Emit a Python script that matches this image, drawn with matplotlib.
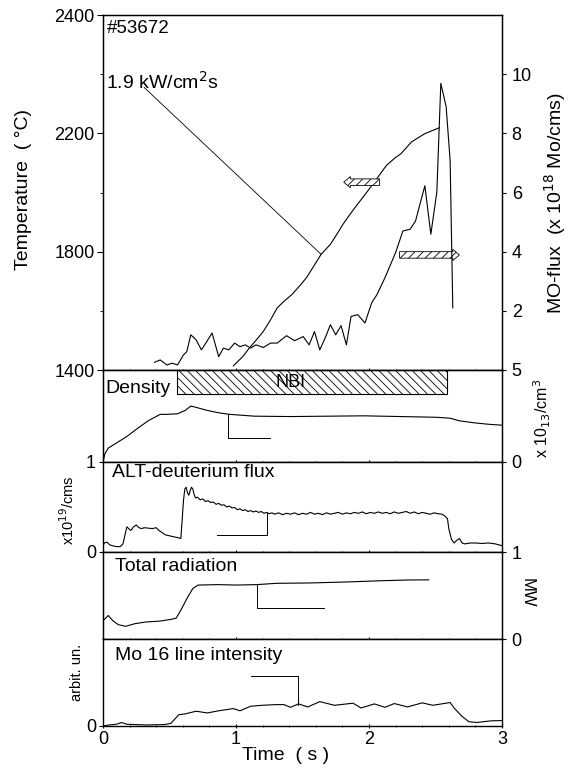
import matplotlib
matplotlib.use('Agg')
import matplotlib.pyplot as plt
from matplotlib.patches import Rectangle, FancyArrow

plt.rcParams['font.family'] = ['Liberation Sans', 'DejaVu Sans']
plt.rcParams['hatch.linewidth'] = 0.6

# ---------------- data ----------------
temp_t = [0.98, 1.05, 1.10, 1.15, 1.205, 1.26, 1.31, 1.36, 1.42, 1.48, 1.53, 1.59, 1.64,
          1.71, 1.76, 1.805, 1.86, 1.915, 1.97, 2.02, 2.08, 2.13, 2.19, 2.24, 2.32, 2.42,
          2.48, 2.53]
temp_c = [1414, 1445, 1474, 1500, 1530, 1570, 1610, 1632, 1655, 1685, 1712, 1755, 1791,
          1825, 1860, 1893, 1928, 1961, 1993, 2023, 2060, 2091, 2115, 2131, 2171, 2199,
          2210, 2219]

mo_t = [0.387, 0.43, 0.48, 0.52, 0.56, 0.605, 0.63, 0.66, 0.70, 0.74, 0.78, 0.82, 0.87,
        0.905, 0.946, 0.99, 1.03, 1.07, 1.11, 1.15, 1.205, 1.26, 1.31, 1.38, 1.44, 1.505,
        1.55, 1.59, 1.63, 1.67, 1.71, 1.75, 1.79, 1.83, 1.865, 1.915, 1.97, 2.02, 2.06,
        2.12, 2.20, 2.255, 2.31, 2.35, 2.42, 2.465, 2.51, 2.54, 2.58, 2.61, 2.63]
mo_flux = [0.26, 0.34, 0.17, 0.23, 0.17, 0.51, 0.62, 1.19, 1.02, 0.68, 0.96, 1.25, 0.45,
           0.74, 0.68, 0.91, 0.79, 0.85, 0.74, 0.85, 0.76, 0.91, 0.91, 1.16, 0.99, 1.13,
           0.85, 1.30, 0.68, 1.08, 1.53, 1.19, 1.50, 0.85, 1.81, 1.87, 1.59, 2.27, 2.55,
           3.12, 3.97, 4.70, 4.76, 5.04, 6.23, 4.59, 6.01, 9.69, 8.90, 7.08, 2.10]

den_t = [0.005, 0.014, 0.04, 0.096, 0.18, 0.26, 0.34, 0.43, 0.48, 0.56, 0.62, 0.66, 0.70,
         0.78, 0.865, 0.95, 1.14, 1.41, 1.69, 1.96, 2.24, 2.51, 2.61, 2.68, 2.79, 2.90, 3.0]
den_v = [0.15, 0.44, 0.76, 1.01, 1.39, 1.83, 2.24, 2.59, 2.59, 2.62, 2.81, 3.04, 2.97,
         2.81, 2.68, 2.59, 2.49, 2.47, 2.49, 2.51, 2.47, 2.43, 2.38, 2.24, 2.13, 2.05, 2.0]

alt_t = [0.00, 0.01, 0.03, 0.05, 0.07, 0.10, 0.13, 0.15, 0.17, 0.18, 0.20, 0.21, 0.23,
         0.25, 0.27, 0.29, 0.31, 0.34, 0.37, 0.40, 0.42, 0.44, 0.47, 0.50, 0.53, 0.56,
         0.585, 0.595, 0.605, 0.615, 0.625, 0.635, 0.645, 0.655, 0.665, 0.675, 0.685,
         0.695, 0.71, 0.73, 0.75, 0.77, 0.79, 0.81, 0.83, 0.85, 0.87, 0.89, 0.91, 0.93,
         0.95, 0.97, 0.99, 1.01, 1.03, 1.05, 1.07, 1.09, 1.11, 1.13, 1.15, 1.17, 1.19,
         1.21, 1.23, 1.25, 1.27, 1.29, 1.32, 1.35, 1.38, 1.41, 1.44, 1.47, 1.50, 1.53,
         1.56, 1.59, 1.62, 1.65, 1.68, 1.71, 1.74, 1.77, 1.80, 1.83, 1.86, 1.89, 1.92,
         1.95, 1.98, 2.01, 2.04, 2.07, 2.10, 2.13, 2.16, 2.19, 2.22, 2.25, 2.28, 2.31,
         2.34, 2.37, 2.40, 2.43, 2.46, 2.49, 2.52, 2.55, 2.57, 2.59, 2.60, 2.62, 2.64,
         2.66, 2.68, 2.70, 2.72, 2.76, 2.80, 2.85, 2.90, 2.95, 3.00]
alt_v = [0.07, 0.10, 0.11, 0.08, 0.07, 0.06, 0.06, 0.09, 0.22, 0.28, 0.25, 0.24, 0.28,
         0.30, 0.27, 0.26, 0.27, 0.265, 0.26, 0.27, 0.24, 0.22, 0.19, 0.18, 0.17, 0.16,
         0.15, 0.35, 0.57, 0.70, 0.72, 0.66, 0.63, 0.68, 0.72, 0.70, 0.64,
         0.60, 0.61, 0.58, 0.59, 0.56, 0.57, 0.55, 0.555, 0.53, 0.54, 0.52, 0.525, 0.50,
         0.51, 0.49, 0.495, 0.47, 0.48, 0.46, 0.47, 0.45, 0.46, 0.445, 0.455, 0.44, 0.45,
         0.43, 0.44, 0.425, 0.435, 0.42, 0.435, 0.415, 0.43, 0.42, 0.435, 0.415, 0.43,
         0.42, 0.44, 0.42, 0.43, 0.415, 0.435, 0.42, 0.43, 0.44, 0.42, 0.435, 0.425, 0.44,
         0.43, 0.445, 0.425, 0.44, 0.43, 0.445, 0.43, 0.44, 0.425, 0.445, 0.43, 0.44,
         0.45, 0.43, 0.445, 0.425, 0.44, 0.43, 0.42, 0.435, 0.425, 0.42, 0.40, 0.37,
         0.26, 0.14, 0.10, 0.13, 0.15, 0.10, 0.09, 0.10, 0.10, 0.095, 0.10, 0.09, 0.07]

rad_t = [0.0, 0.04, 0.074, 0.115, 0.17, 0.24, 0.32, 0.43, 0.51, 0.55, 0.59, 0.635, 0.675,
         0.715, 0.87, 1.00, 1.155, 1.305, 1.55, 1.82, 2.10, 2.29, 2.45]
rad_v = [0.21, 0.27, 0.21, 0.165, 0.146, 0.176, 0.195, 0.206, 0.225, 0.24, 0.345, 0.476,
         0.58, 0.62, 0.625, 0.62, 0.625, 0.64, 0.644, 0.655, 0.67, 0.678, 0.68]

mo16_t = [0.0, 0.046, 0.10, 0.14, 0.18, 0.32, 0.46, 0.51, 0.57, 0.62, 0.70, 0.785, 0.87,
          0.98, 1.03, 1.11, 1.195, 1.305, 1.36, 1.41, 1.47, 1.54, 1.63, 1.74, 1.88, 1.94,
          2.04, 2.12, 2.19, 2.29, 2.40, 2.48, 2.61, 2.64, 2.70, 2.75, 2.81, 2.92, 3.0]
mo16_v = [0.0, 0.012, 0.02, 0.04, 0.02, 0.012, 0.016, 0.03, 0.13, 0.14, 0.17, 0.15, 0.175,
          0.20, 0.175, 0.227, 0.238, 0.246, 0.246, 0.215, 0.254, 0.219, 0.28, 0.238, 0.262,
          0.207, 0.254, 0.215, 0.258, 0.219, 0.266, 0.238, 0.27, 0.207, 0.11, 0.05, 0.04,
          0.06, 0.062]

temp_ticks = [1400, 1800, 2200, 2600]
temp_ticklabels = ['1400', '1800', '2200', '2400']
flux_ticks = [2, 4, 6, 8, 10]
time_ticks = [0, 1, 2, 3]

# ---------------- figure ----------------
fig = plt.figure(figsize=(5.68, 7.71), dpi=100)
L, W = 103 / 568, 399 / 568


def rect(top, bottom):
    return [L, 1 - bottom / 771, W, (bottom - top) / 771]


ax_top = fig.add_axes(rect(15, 370))
ax_den = fig.add_axes(rect(370, 462))
ax_alt = fig.add_axes(rect(462, 552))
ax_rad = fig.add_axes(rect(552, 639))
ax_mo = fig.add_axes(rect(639, 726))

TS = 13
LW = 0.8
for ax in [ax_top, ax_den, ax_alt, ax_rad, ax_mo]:
    ax.set_xlim(0, 3)
    ax.set_xticks(time_ticks)
    ax.set_xticks([0.2 * i for i in range(16)], minor=True)
    ax.tick_params(axis='x', which='both', direction='inout', labelbottom=False, length=3)
    ax.tick_params(axis='x', which='minor', length=1.5)
    for s in ax.spines.values():
        s.set_linewidth(1.0)
ax_mo.tick_params(axis='x', labelbottom=True, labelsize=TS, pad=2)

# top panel
ax_top.plot(temp_t, temp_c, color='black', lw=LW)
ax_top.set_ylim(1400, 2600)
ax_top.set_yticks(temp_ticks)
ax_top.set_yticklabels(temp_ticklabels)
ax_top.set_yticks([1600, 2000, 2400], minor=True)
ax_top.tick_params(axis='y', which='major', direction='out', length=4, labelsize=TS, pad=2)
ax_top.tick_params(axis='y', which='minor', direction='out', length=2)

ax_t2 = ax_top.twinx()
ax_t2.set_ylim(0, 12)
ax_t2.plot(mo_t, mo_flux, color='black', lw=LW)
ax_t2.set_yticks(flux_ticks)
ax_t2.tick_params(axis='y', direction='out', length=3, labelsize=TS, pad=4)
ax_t2.text(0.03, 11.56, '#53672', fontsize=13.5, va='center', ha='left')
ax_t2.text(0.02, 9.75, r'1.9 kW/cm$^2$s', fontsize=14, va='center', ha='left')
ax_t2.plot([0.31, 1.64], [9.55, 3.91], color='black', lw=0.6)
ax_t2.add_patch(FancyArrow(2.08, 6.35, -0.27, 0, width=0.22, head_width=0.38,
                           head_length=0.05, length_includes_head=True,
                           facecolor='white', edgecolor='black', hatch='////', lw=0.6))
ax_t2.add_patch(FancyArrow(2.23, 3.89, 0.45, 0, width=0.22, head_width=0.38,
                           head_length=0.05, length_includes_head=True,
                           facecolor='white', edgecolor='black', hatch='////', lw=0.6))

# density panel
ax_den.plot(den_t, den_v, color='black', lw=LW)
ax_den.set_ylim(0, 5)
ax_den.set_yticks([])
ax_den.add_patch(Rectangle((0.555, 3.67), 2.035, 1.33, fill=False, hatch='\\' * 4,
                           edgecolor='black', lw=0.8))
ax_den.text(1.41, 4.3, 'NBI', fontsize=13, ha='center', va='center')
ax_den.text(0.02, 4.0, 'Density', fontsize=14, ha='left', va='center')
ax_den.plot([0.94, 0.94, 1.255], [2.59, 1.33, 1.33], color='black', lw=0.7)
ax_d2 = ax_den.twinx()
ax_d2.set_ylim(0, 5)
ax_d2.set_yticks([0, 5])
ax_d2.tick_params(axis='y', direction='out', length=3, labelsize=TS, pad=4)

# ALT panel
ax_alt.plot(alt_t, alt_v, color='black', lw=LW)
ax_alt.set_ylim(0, 1)
ax_alt.set_yticks([0, 1])
ax_alt.tick_params(axis='y', direction='out', length=3, labelsize=TS, pad=2)
ax_alt.text(0.07, 0.88, 'ALT-deuterium flux', fontsize=14, ha='left', va='center')
ax_alt.plot([1.235, 1.235, 0.855], [0.435, 0.185, 0.185], color='black', lw=0.7)

# total radiation panel
ax_rad.plot(rad_t, rad_v, color='black', lw=LW)
ax_rad.set_ylim(0, 1)
ax_rad.set_yticks([])
ax_rad.text(0.09, 0.83, 'Total radiation', fontsize=14, ha='left', va='center')
ax_rad.plot([1.16, 1.16, 1.66], [0.625, 0.352, 0.352], color='black', lw=0.7)
ax_r2 = ax_rad.twinx()
ax_r2.set_ylim(0, 1)
ax_r2.set_yticks([0, 1])
ax_r2.tick_params(axis='y', direction='out', length=3, labelsize=TS, pad=4)

# Mo16 panel
ax_mo.plot(mo16_t, mo16_v, color='black', lw=LW)
ax_mo.set_ylim(0, 1)
ax_mo.set_yticks([0])
ax_mo.tick_params(axis='y', direction='out', length=3, labelsize=TS, pad=2)
ax_mo.text(0.09, 0.81, 'Mo 16 line intensity', fontsize=14, ha='left', va='center')
ax_mo.plot([1.465, 1.465, 1.11], [0.246, 0.578, 0.578], color='black', lw=0.7)

# axis labels
fig.text(24 / 568, 1 - 190 / 771, 'Temperature  ( °C)', rotation=90, fontsize=14,
         ha='center', va='center')
fig.text(555 / 568, 1 - 203 / 771, r'MO-flux  (x 10$^{18}$ Mo/cms)', rotation=90,
         fontsize=14, ha='center', va='center')
fig.text(542 / 568, 1 - 418 / 771, r'x 10$_{13}$/cm$^{3}$', rotation=90, fontsize=11.5,
         ha='center', va='center')
fig.text(527 / 568, 1 - 593 / 771, 'MW', rotation=270, fontsize=12, ha='center', va='center')
fig.text(68 / 568, 1 - 510 / 771, r'x10$^{19}$/cms', rotation=90, fontsize=10.5,
         ha='center', va='center')
fig.text(77 / 568, 1 - 672 / 771, 'arbit. un.', rotation=90, fontsize=10.5,
         ha='center', va='center')
fig.text(286 / 568, 1 - 755 / 771, 'Time  ( s )', fontsize=14, ha='center', va='center')

fig.savefig('out.png', dpi=100)
